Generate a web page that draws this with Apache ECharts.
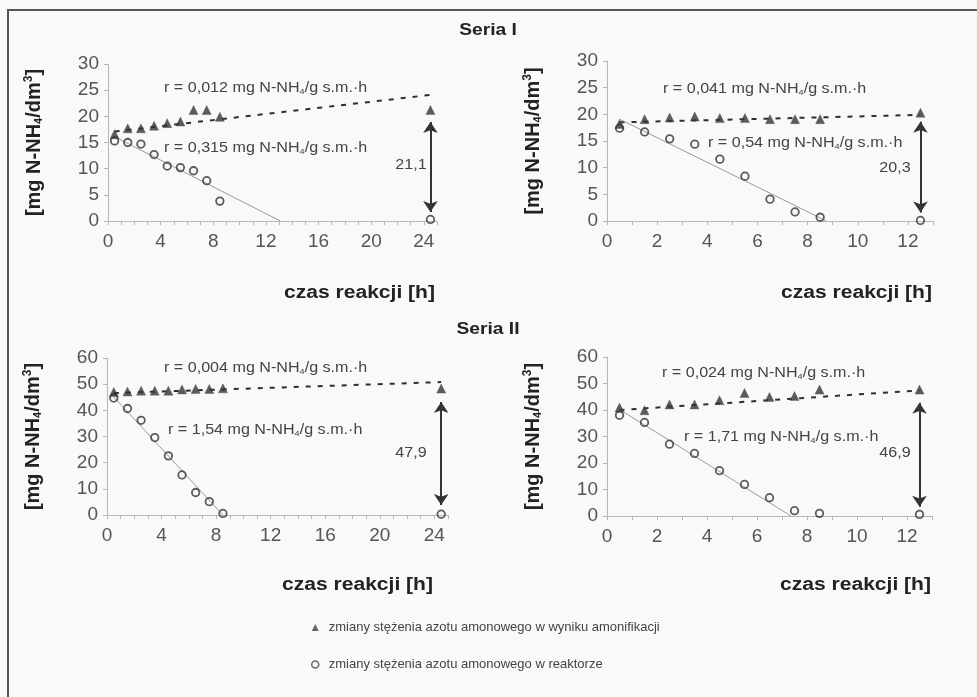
<!DOCTYPE html>
<html><head><meta charset="utf-8">
<script src="https://cdn.jsdelivr.net/npm/echarts@6/dist/echarts.min.js"></script>
<style>html,body{margin:0;padding:0;background:#f9f9f8}#c{width:977px;height:697px}</style>
</head><body><div id="c"></div>
<script>
// ---- data ----
const hoursLong = [0.5, 1.5, 2.5, 3.5, 4.5, 5.5, 6.5, 7.5, 8.5, 24.5];
const hoursShort = [0.5, 1.5, 2.5, 3.5, 4.5, 5.5, 6.5, 7.5, 8.5, 12.5];

const s1aAmon = [16.6, 17.7, 17.7, 18.2, 18.7, 19.0, 21.2, 21.2, 19.9, 21.2];
const s1aReak = [15.3, 15.0, 14.7, 12.7, 10.5, 10.2, 9.6, 7.7, 3.8, 0.3];
const s1bAmon = [18.2, 19.1, 19.4, 19.6, 19.3, 19.3, 19.1, 19.1, 19.1, 20.3];
const s1bReak = [17.4, 16.7, 15.4, 14.4, 11.6, 8.4, 4.1, 1.7, 0.7, 0.1];
const s2aAmon = [47.0, 47.2, 47.5, 47.5, 47.5, 48.0, 48.2, 48.2, 48.4, 48.3];
const s2aReak = [44.7, 40.7, 36.2, 29.6, 22.6, 15.3, 8.6, 5.1, 0.6, 0.3];
const s2bAmon = [40.9, 39.9, 42.1, 42.1, 43.7, 46.4, 44.9, 45.3, 47.7, 47.7];
const s2bReak = [38.0, 35.3, 27.1, 23.6, 17.1, 11.9, 6.9, 2.0, 1.0, 0.6];

// trend line end points [x, y]
const trend1aAmon = [[0.5, 17.1], [24.5, 24.1]];
const trend1aReak = [[0.5, 16.1], [13.1, 0]];
const trend1bAmon = [[0.5, 18.5], [12.5, 19.9]];
const trend1bReak = [[0.5, 19.1], [8.75, 0]];
const trend2aAmon = [[0.5, 46.6], [24.5, 50.8]];
const trend2aReak = [[0.5, 45.1], [8.5, 0]];
const trend2bAmon = [[0.5, 40.0], [12.5, 47.4]];
const trend2bReak = [[0.5, 40.2], [7.36, 0]];

// double arrows [x, yTop, yBottom] and their labels
const arrow1a = [24.5, 18.9, 1.7];
const arrow1b = [12.5, 18.6, 1.6];
const arrow2a = [24.5, 43.2, 3.8];
const arrow2b = [12.5, 42.7, 3.5];
const arrowLabels = ['21,1', '20,3', '47,9', '46,9'];

const rateLabels = [
  ['0,012', '0,315'], ['0,041', '0,54'], ['0,004', '1,54'], ['0,024', '1,71']
];
const seriesTitles = ['Seria I', 'Seria II'];
const xName = 'czas reakcji [h]';
const nameAmon = 'zmiany stężenia azotu amonowego w wyniku amonifikacji';
const nameReak = 'zmiany stężenia azotu amonowego w reaktorze';

// ---- chart ----
const FONT = 'Liberation Sans, Arial, sans-serif';
const DARK = '#2e2e2e';
const BG = '#f9f9f8';
const grids = [
  {left: 108, top: 64, width: 329, height: 157},
  {left: 607, top: 61, width: 326, height: 160},
  {left: 107, top: 358, width: 341, height: 157},
  {left: 607, top: 357, width: 325, height: 159}
];
const xMax = [25, 13, 25, 13];
const xStep = [4, 2, 4, 2];
const yMax = [30, 30, 60, 60];
const yInt = [5, 5, 10, 10];

const axisLine = {lineStyle: {color: '#b8b8b8', width: 1}};
const xAxes = grids.map((g, i) => ({
  type: 'value', gridIndex: i, min: 0, max: xMax[i], interval: 1,
  splitLine: {show: false}, axisLine: axisLine,
  axisTick: {show: true, length: 4, lineStyle: {color: '#b8b8b8'}},
  axisLabel: {
    margin: 11, fontSize: 19, color: '#555', fontFamily: FONT,
    formatter: v => (v % xStep[i] === 0 && v < xMax[i]) ? String(v) : ''
  }
}));
const yAxes = grids.map((g, i) => ({
  type: 'value', gridIndex: i, min: 0, max: yMax[i], interval: yInt[i],
  splitLine: {show: false}, axisLine: {show: true, lineStyle: {color: '#b8b8b8'}},
  axisTick: {show: true, length: 4, lineStyle: {color: '#b8b8b8'}},
  axisLabel: {margin: 9, fontSize: 19, color: '#555', fontFamily: FONT},
  name: '[mg N-NH{sub|4}/dm{sup|3}]',
  nameLocation: 'middle', nameRotate: 90, nameGap: 63,
  nameTextStyle: {
    fontSize: 20, fontWeight: 'bold', color: '#222', fontFamily: FONT,
    rich: {
      sub: {fontSize: 11, fontWeight: 'bold', color: '#222', fontFamily: FONT, padding: [10, 0, 0, 0]},
      sup: {fontSize: 12, fontWeight: 'bold', color: '#222', fontFamily: FONT, padding: [0, 0, 10, 0]}
    }
  }
}));

const panels = [
  {x: hoursLong, amon: s1aAmon, reak: s1aReak, tA: trend1aAmon, tR: trend1aReak, arrow: arrow1a},
  {x: hoursShort, amon: s1bAmon, reak: s1bReak, tA: trend1bAmon, tR: trend1bReak, arrow: arrow1b},
  {x: hoursLong, amon: s2aAmon, reak: s2aReak, tA: trend2aAmon, tR: trend2aReak, arrow: arrow2a},
  {x: hoursShort, amon: s2bAmon, reak: s2bReak, tA: trend2bAmon, tR: trend2bReak, arrow: arrow2b}
];

const series = [];
panels.forEach((p, i) => {
  series.push({
    type: 'line', name: 'trendA' + i, xAxisIndex: i, yAxisIndex: i, data: p.tA,
    showSymbol: false, symbol: 'none', silent: true, z: 1,
    lineStyle: {color: DARK, width: 2, type: [5, 7]}
  });
  series.push({
    type: 'line', name: 'trendR' + i, xAxisIndex: i, yAxisIndex: i, data: p.tR,
    showSymbol: false, symbol: 'none', silent: true, z: 1,
    lineStyle: {color: '#9a9a9a', width: 1}
  });
  series.push({
    type: 'scatter', name: nameAmon, xAxisIndex: i, yAxisIndex: i, z: 3,
    data: p.x.map((h, k) => [h, p.amon[k]]),
    symbol: 'triangle', symbolSize: 9,
    itemStyle: {color: '#333', borderColor: '#555', borderWidth: 0.5}
  });
  series.push({
    type: 'scatter', name: nameReak, xAxisIndex: i, yAxisIndex: i, z: 3,
    data: p.x.map((h, k) => [h, p.reak[k]]),
    symbol: 'circle', symbolSize: 7.5,
    itemStyle: {color: 'rgba(0,0,0,0)', borderColor: '#333', borderWidth: 1.8},
    markLine: {
      silent: true, animation: false, symbol: ['arrow', 'arrow'], symbolSize: 11,
      label: {show: false},
      lineStyle: {color: '#333', width: 2, type: 'solid'},
      data: [[{coord: [p.arrow[0], p.arrow[1]]}, {coord: [p.arrow[0], p.arrow[2]]}]]
    }
  });
});

const txt = (x, y, text, opts, sx) => ({
  type: 'text', x: x, y: y, scaleX: sx || 1.15, z: 10,
  style: Object.assign({
    text: text, fontFamily: FONT, fontSize: 14, fill: '#444',
    align: 'left', verticalAlign: 'middle',
    rich: {s: {fontSize: 8, fill: '#444', fontFamily: FONT, padding: [7, 0, 0, 0]}}
  }, opts || {})
});

const rateText = v => 'r = ' + v + ' mg N-NH{s|4}/g s.m.·h';
const ratePos = [
  [[164, 88], [164, 148]], [[663, 89], [708, 143]],
  [[164, 368], [168, 430]], [[662, 373], [684, 437]]
];
const arrowLabelPos = [[411, 165], [895, 168], [411, 453], [895, 453]];
const xNamePos = [[435, 293], [932, 293], [433, 585], [931, 585]];

const graphic = [
  {type: 'rect', shape: {x: 8, y: 10, width: 1100, height: 800}, z: 0,
   style: {fill: null, stroke: '#555', lineWidth: 2}},
  txt(488, 31, seriesTitles[0], {fontSize: 16, fontWeight: 'bold', fill: '#222', align: 'center'}, 1.2),
  txt(488, 330, seriesTitles[1], {fontSize: 16, fontWeight: 'bold', fill: '#222', align: 'center'}, 1.2)
];
ratePos.forEach((pp, i) => {
  graphic.push(txt(pp[0][0], pp[0][1], rateText(rateLabels[i][0])));
  graphic.push(txt(pp[1][0], pp[1][1], rateText(rateLabels[i][1])));
  graphic.push(txt(arrowLabelPos[i][0], arrowLabelPos[i][1], arrowLabels[i], {align: 'center'}));
  graphic.push(txt(xNamePos[i][0], xNamePos[i][1], xName,
    {fontSize: 18, fontWeight: 'bold', fill: '#222', align: 'right'}, 1.17));
});

const chart = echarts.init(document.getElementById('c'), null, {renderer: 'canvas'});
chart.setOption({
  backgroundColor: BG,
  animation: false,
  grid: grids,
  xAxis: xAxes,
  yAxis: yAxes,
  series: series,
  graphic: graphic,
  legend: {
    data: [
      {name: nameAmon, icon: 'triangle', itemStyle: {color: '#444', borderWidth: 0}},
      {name: nameReak, icon: 'circle', itemStyle: {color: BG, borderColor: '#444', borderWidth: 1.5}}
    ],
    orient: 'vertical', left: 306, top: 616, itemWidth: 7, itemHeight: 7, itemGap: 24,
    textStyle: {fontSize: 13, color: '#444', fontFamily: FONT, padding: [0, 0, 0, 5]},
    selectedMode: false
  }
});
</script></body></html>
